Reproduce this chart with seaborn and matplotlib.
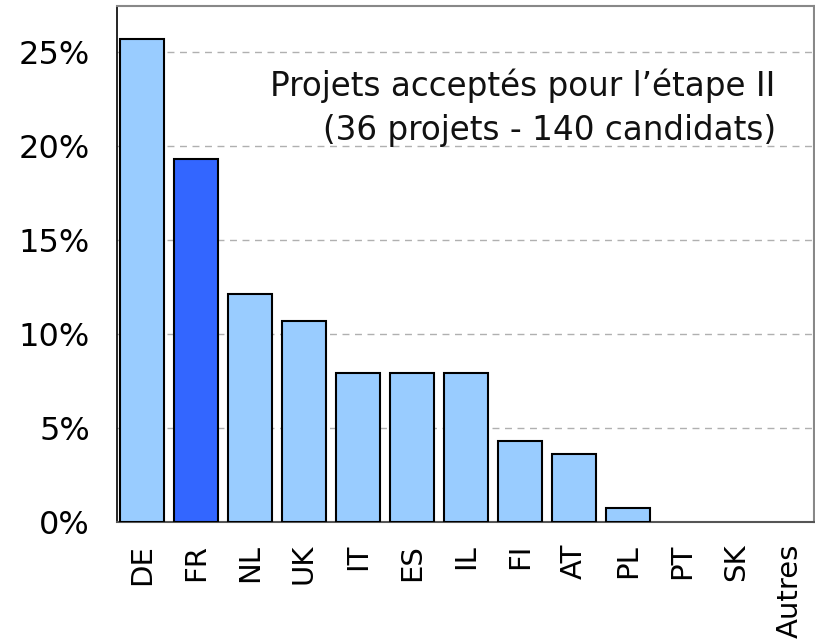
import matplotlib
matplotlib.use("Agg")
import matplotlib.pyplot as plt
import seaborn as sns
import pandas as pd

countries = ["DE", "FR", "NL", "UK", "IT", "ES", "IL", "FI", "AT", "PL", "PT", "SK", "Autres"]
shares = [25.7, 19.3, 12.1, 10.7, 7.9, 7.9, 7.9, 4.3, 3.6, 0.7, 0.0, 0.0, 0.0]
highlight = "FR"
annotation = "Projets acceptés pour l\u2019étape II\n(36 projets - 140 candidats)"
yticks = [0, 5, 10, 15, 20, 25]

df = pd.DataFrame({"pays": countries, "part": shares})
palette = {c: ("#3366FF" if c == highlight else "#99CCFF") for c in countries}

sns.set_style("white")
plt.rcParams["font.family"] = ["DejaVu Sans"]
plt.rcParams["text.color"] = "black"
plt.rcParams["xtick.color"] = "black"
plt.rcParams["ytick.color"] = "black"

fig = plt.figure(figsize=(8.15, 6.42), dpi=100)
ax = fig.add_axes([116.5 / 815, 1 - 521.5 / 642, (814 - 116.5) / 815, (521.5 - 5.5) / 642])

sns.barplot(data=df, x="pays", y="part", hue="pays", palette=palette, order=countries,
            saturation=1, width=0.815, edgecolor="black", linewidth=1.5, legend=False,
            ax=ax, zorder=3)
for p in ax.patches:
    if p.get_height() == 0:
        p.set_linewidth(0)

ax.set_xlim(-0.47, 12.44)
ax.set_ylim(0, 27.5)
ax.set_yticks(yticks)
ax.set_yticklabels([f"{v}%" for v in yticks])
ax.yaxis.grid(True, linestyle=(0, (5, 4)), color="#b0b0b0", linewidth=1.0, zorder=0)
ax.xaxis.grid(False)
ax.set_xlabel("")
ax.set_ylabel("")
ax.tick_params(axis="y", length=0, pad=19, labelsize=23, labelcolor="black")
ax.tick_params(axis="x", length=0, pad=16, labelsize=21, labelrotation=90, labelcolor="black")

ax.spines["left"].set_color("black")
ax.spines["left"].set_linewidth(1.2)
ax.spines["bottom"].set_color("#555555")
ax.spines["bottom"].set_linewidth(1.5)
for s in ("top", "right"):
    ax.spines[s].set_color("#888888")
    ax.spines[s].set_linewidth(1.5)

ax.text(0.945, 0.802, annotation, transform=ax.transAxes, ha="right", va="center",
        fontsize=23.5, linespacing=1.4, color="#111111")

fig.savefig("out.png", dpi=100)
